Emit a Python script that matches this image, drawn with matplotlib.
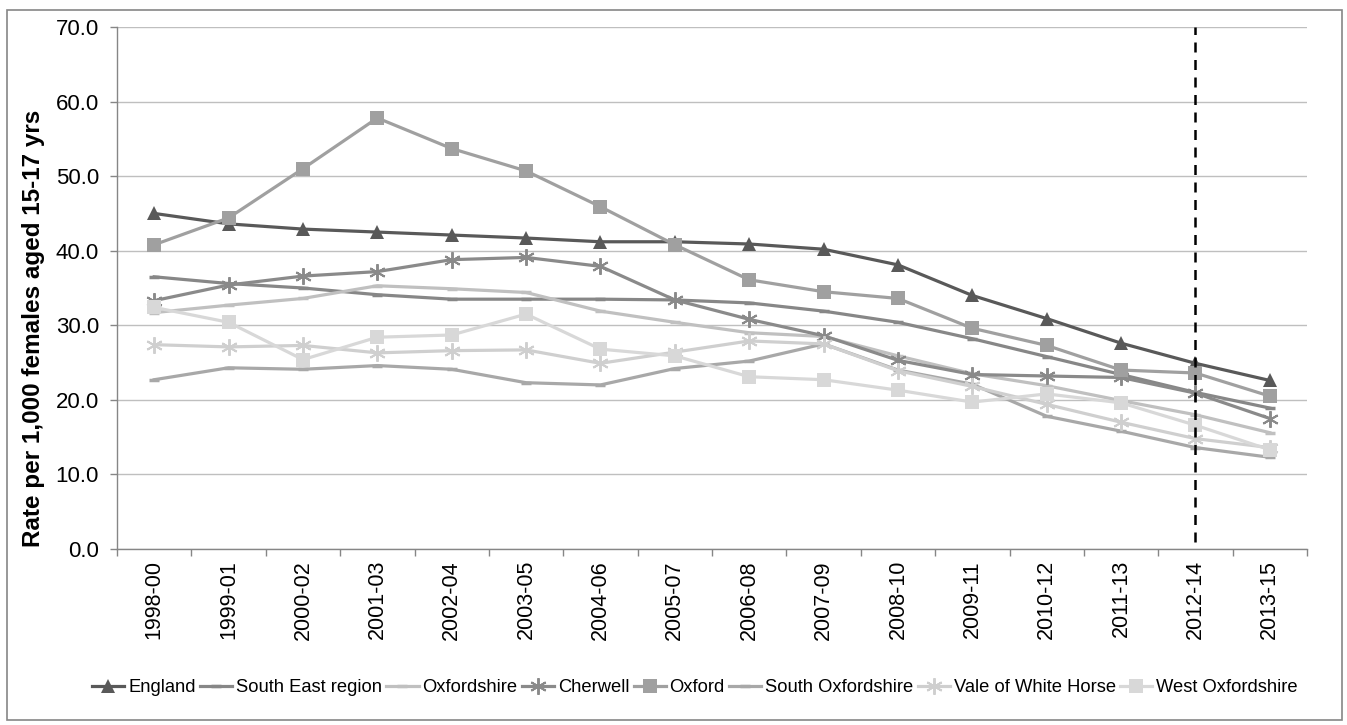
import numpy as np
import matplotlib
matplotlib.use("Agg")
import matplotlib.pyplot as plt
from matplotlib.patches import Rectangle

plt.rcParams['font.family'] = ['Liberation Sans', 'DejaVu Sans']

categories = ["1998-00", "1999-01", "2000-02", "2001-03", "2002-04", "2003-05", "2004-06",
              "2005-07", "2006-08", "2007-09", "2008-10", "2009-11", "2010-12", "2011-13",
              "2012-14", "2013-15"]

england = [45.0, 43.6, 42.9, 42.5, 42.1, 41.7, 41.2, 41.2, 40.9, 40.2, 38.1, 34.0, 30.9, 27.6, 24.9, 22.6]
south_east = [36.5, 35.6, 35.0, 34.1, 33.5, 33.5, 33.5, 33.4, 33.0, 31.9, 30.4, 28.2, 25.8, 23.4, 21.0, 18.9]
oxfordshire = [31.7, 32.7, 33.6, 35.3, 34.9, 34.4, 31.9, 30.4, 29.0, 28.5, 25.9, 23.5, 21.9, 19.9, 18.0, 15.6]
cherwell = [33.3, 35.4, 36.6, 37.2, 38.8, 39.1, 37.9, 33.4, 30.8, 28.6, 25.3, 23.4, 23.2, 23.0, 20.9, 17.5]
oxford = [40.8, 44.4, 51.0, 57.8, 53.7, 50.7, 45.9, 40.8, 36.1, 34.5, 33.6, 29.6, 27.3, 24.0, 23.6, 20.5]
south_oxon = [22.7, 24.3, 24.1, 24.6, 24.1, 22.3, 22.0, 24.2, 25.2, 27.5, 24.0, 22.1, 17.8, 15.8, 13.6, 12.3]
vale = [27.4, 27.1, 27.3, 26.3, 26.6, 26.7, 24.9, 26.4, 27.9, 27.5, 23.9, 21.8, 19.4, 17.0, 14.8, 13.6]
west_oxon = [32.4, 30.4, 25.4, 28.4, 28.7, 31.5, 26.8, 25.9, 23.1, 22.7, 21.3, 19.7, 20.8, 19.6, 16.6, 13.3]

series_names = ["England", "South East region", "Oxfordshire", "Cherwell", "Oxford",
                "South Oxfordshire", "Vale of White Horse", "West Oxfordshire"]
series_values = [england, south_east, oxfordshire, cherwell, oxford, south_oxon, vale, west_oxon]

colors = ["#595959", "#878787", "#c0c0c0", "#8a8a8a", "#a0a0a0", "#a8a8a8", "#cfcfcf", "#d8d8d8"]
star = (6, 2, 0)
markers = ["^", "_", "_", star, "s", "_", star, "s"]
msizes = [10.5, 7, 7, 12, 9.5, 7, 12, 9.5]

W, H = 1347, 725
fig = plt.figure(figsize=(W / 100, H / 100), dpi=100)
ax = fig.add_axes([117 / W, 1 - 549 / H, (1307 - 117) / W, (549 - 27) / H])

x = np.arange(len(categories))
for name, vals, c, m, ms in zip(series_names, series_values, colors, markers, msizes):
    kw = dict(color=c, lw=2.3, marker=m, markersize=ms, label=name,
              markerfacecolor=c, markeredgecolor=c)
    if m == star:
        kw['markeredgewidth'] = 1.4
    elif m == "_":
        kw['markeredgewidth'] = 2.5
    else:
        kw['markeredgewidth'] = 0
    ax.plot(x, vals, **kw)

ax.plot([14, 14], [1.0, 70.0], color="black", lw=1.8, linestyle=(0, (4, 3)), zorder=5)

ax.set_xlim(-0.5, len(categories) - 0.5)
ax.set_ylim(0, 70)
ax.set_yticks(np.arange(0, 71, 10))
ax.set_yticklabels([f"{v:.1f}" for v in np.arange(0, 71, 10)], fontsize=16)
ax.set_xticks(x)
ax.set_xticklabels(categories, rotation=90, fontsize=15.5)
ax.set_xticks(np.arange(-0.5, len(categories), 1), minor=True)
ax.tick_params(axis='x', which='major', length=0, pad=8)
ax.tick_params(axis='x', which='minor', length=5, color="#868686", width=1)
ax.tick_params(axis='y', length=5, color="#868686", width=1, pad=8)

ax.yaxis.grid(True, color="#bfbfbf", lw=1)
ax.set_axisbelow(True)
for s in ["top", "right"]:
    ax.spines[s].set_visible(False)
for s in ["left", "bottom"]:
    ax.spines[s].set_color("#868686")
    ax.spines[s].set_linewidth(1)

fig.text(34 / W, 1 - 328 / H, "Rate per 1,000 females aged 15-17 yrs", rotation=90,
         ha="center", va="center", fontsize=17.5, fontweight="bold")

fig.legend(loc="center", bbox_to_anchor=(695 / W, 1 - 688 / H), ncol=8, frameon=False,
           fontsize=13.2, handlelength=1.75, handletextpad=0.2, columnspacing=0.25)

fig.patches.append(Rectangle((7 / W, 1 - 720 / H), (1342 - 7) / W, (720 - 10) / H,
                             transform=fig.transFigure, fill=False, edgecolor="#868686", lw=1.2))

fig.savefig("out.png", dpi=100)
